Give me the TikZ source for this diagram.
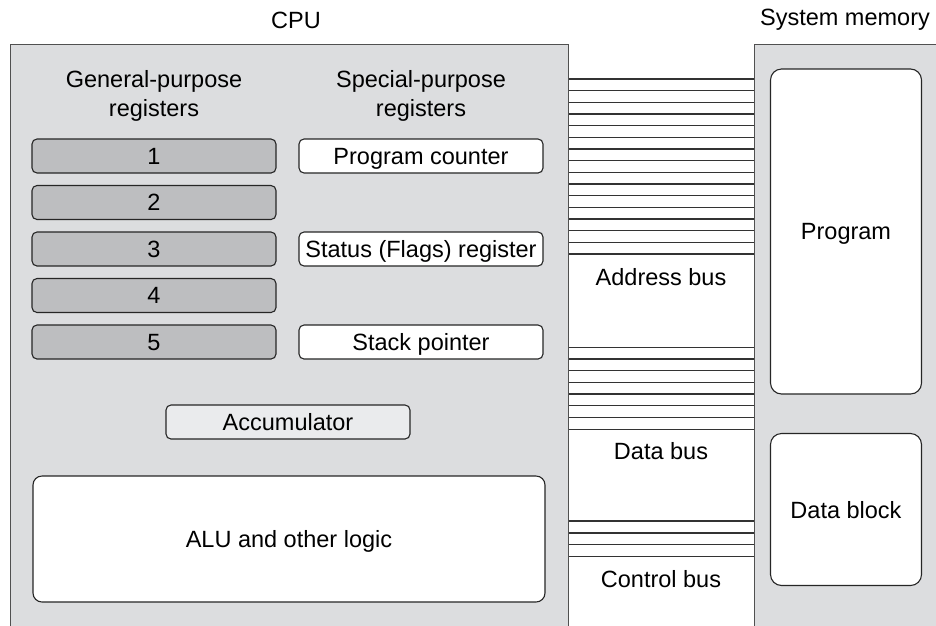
\documentclass[tikz,border=0pt]{standalone}
\usepackage{fontspec}
\setmainfont{Liberation Sans}
\usetikzlibrary{positioning}
\definecolor{cpugray}{RGB}{220,221,223}
\definecolor{reggray}{RGB}{189,190,192}
\definecolor{accgray}{RGB}{234,235,237}
\definecolor{edgegray}{RGB}{80,80,80}

\begin{document}
\begin{tikzpicture}[x=1pt, y=-1pt,
    every node/.style={font=\fontsize{23.5}{29}\selectfont},
    frame/.style={draw=edgegray, line width=1.4pt, fill=cpugray, anchor=north west, minimum height=620pt},
    unit/.style={draw=black!85, line width=1.1pt, rounded corners=5pt, minimum width=244pt, minimum height=34pt, inner sep=0pt, text depth=0pt},
    gpreg/.style={unit, fill=reggray},
    spreg/.style={unit, fill=white},
    block/.style={draw=black!85, line width=1.1pt, fill=white, rounded corners=11pt, inner sep=0pt, text depth=0pt},
    wire/.style={draw=black!80, line width=1.3pt}]
    \clip (0,0) rectangle (936,625);
    \fill[white] (0,0) rectangle (936,625);

    % Draw the CPU and memory frames
    \node[frame, minimum width=558pt] (cpu) at (10,44) {};
    \node[frame, minimum width=230pt] (mem) at (754,44) {};
    \node (cpulabel) at (296,20) {CPU};
    \node (memlabel) at (845,20) {System memory};

    % Draw register columns
    \node[align=center] (gphead) at (154,96) {General-purpose\\registers};
    \node[align=center] (sphead) at (421,96) {Special-purpose\\registers};
    \foreach \n [count=\i from 0] in {1,...,5}
        \node[gpreg] (gp\n) at (154,{156+46.5*\i}) {\n};
    \node[spreg] (pc) at (421,156) {Program counter};
    \node[spreg] (flags) at (421,249) {Status (Flags) register};
    \node[spreg] (sp) at (421,342) {Stack pointer};

    % Draw accumulator and ALU
    \node[unit, fill=accgray] (acc) at (288,422) {Accumulator};
    \node[block, rounded corners=9pt, minimum width=512pt, minimum height=126pt] (alu) at (289,539) {ALU and other logic};

    % Draw memory blocks
    \node[block, minimum width=151pt, minimum height=325pt] (prog) at (846,231.5) {Program};
    \node[block, minimum width=151pt, minimum height=152pt] (datablk) at (846,509.5) {Data block};

    % Draw the buses
    \foreach \i [evaluate=\i as \y using 79+11.67*\i] in {0,...,15}
        \draw[wire] (cpu.east |- 0,\y) -- (mem.west |- 0,\y);
    \foreach \i [evaluate=\i as \y using 347.3+11.7*\i] in {0,...,7}
        \draw[wire] (cpu.east |- 0,\y) -- (mem.west |- 0,\y);
    \foreach \i [evaluate=\i as \y using 521+11.9*\i] in {0,...,3}
        \draw[wire] (cpu.east |- 0,\y) -- (mem.west |- 0,\y);
    \node (addrlabel) at (661,277) {Address bus};
    \node (datalabel) at (661,451) {Data bus};
    \node (ctrllabel) at (661,579) {Control bus};
\end{tikzpicture}
\end{document}
